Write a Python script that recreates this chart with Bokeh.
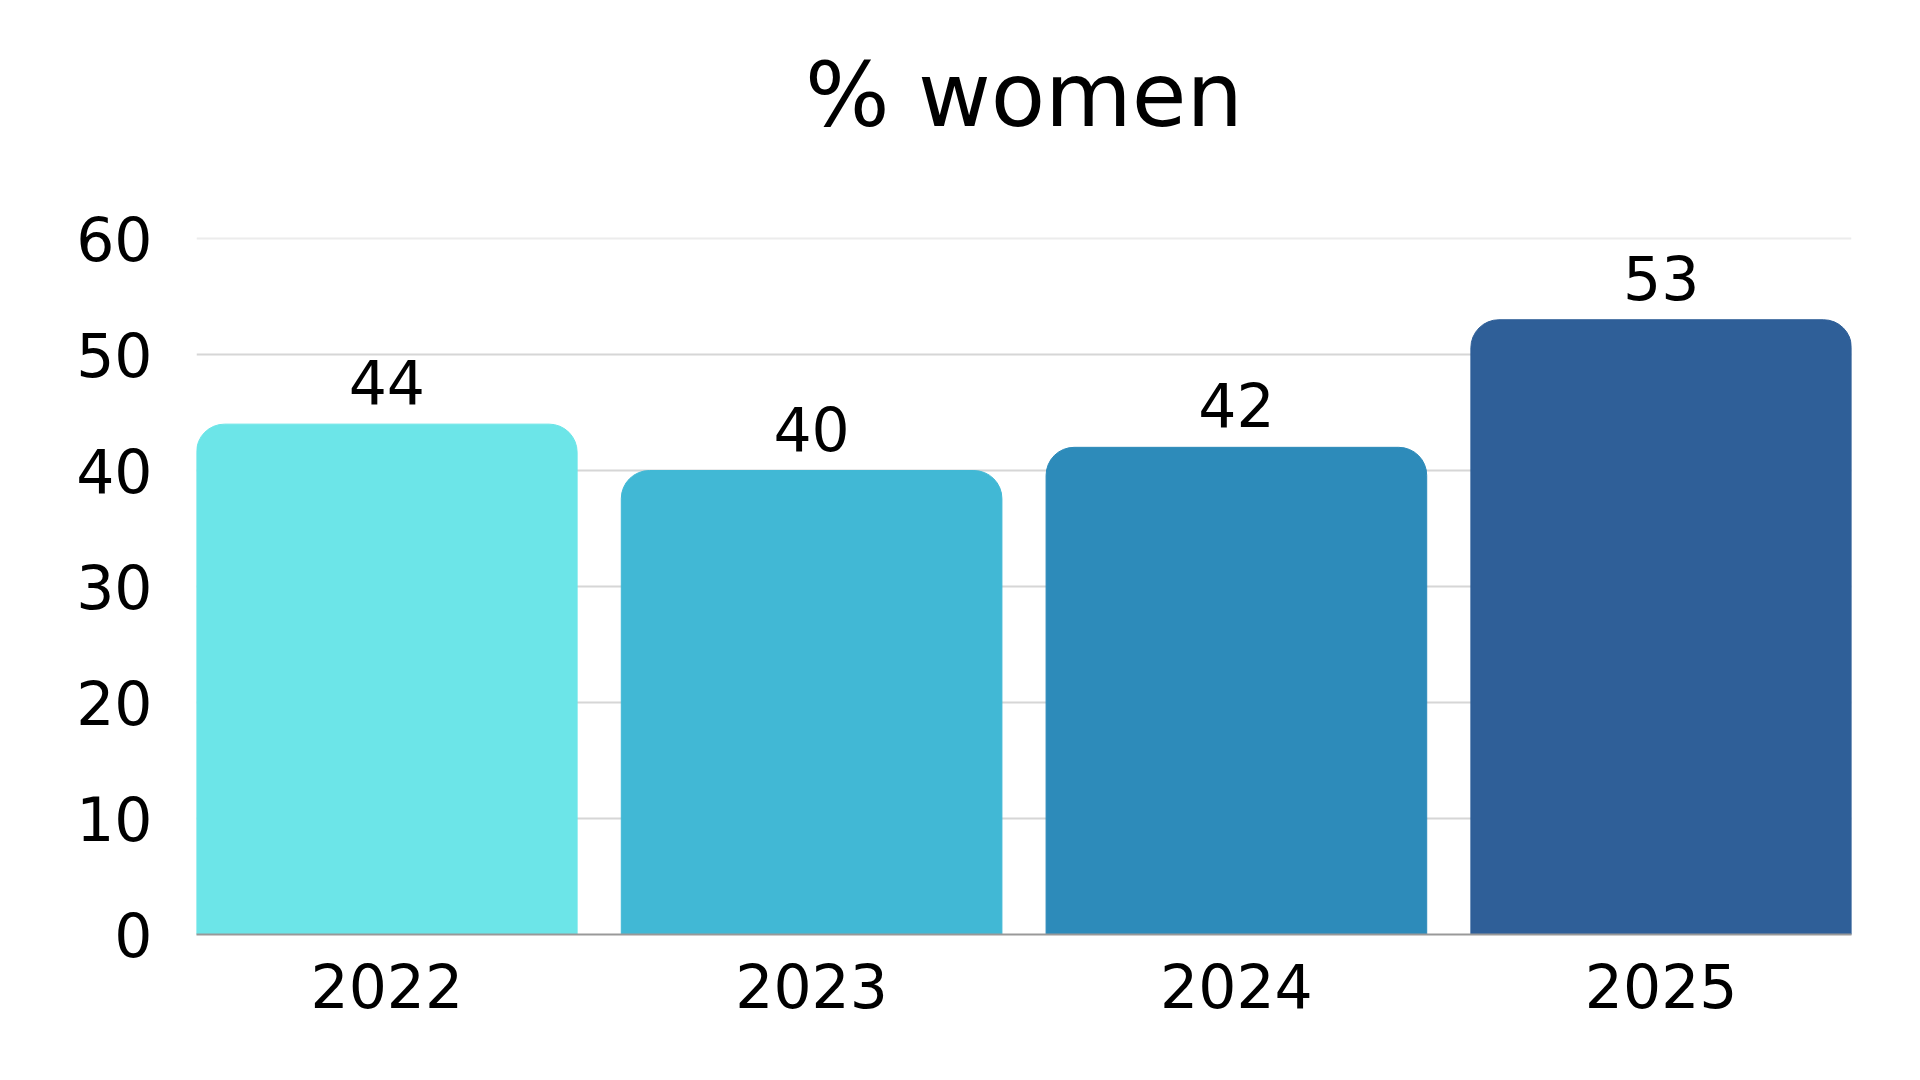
from bokeh.plotting import figure
from bokeh.models import ColumnDataSource, FixedTicker, Range1d, Span
from bokeh.core.properties import value
from bokeh.embed import file_html
from bokeh.resources import INLINE

title_text = "% women"
years = ["2022", "2023", "2024", "2025"]
women_pct = [44, 40, 42, 53]
bar_colors = ["#6CE5E8", "#41B8D5", "#2D8BBA", "#2F5F98"]
y_ticks = [0, 10, 20, 30, 40, 50, 60]

FONT = "DejaVu Sans"

src = ColumnDataSource(dict(
    year=years,
    pct=women_pct,
    color=bar_colors,
    label=[str(v) for v in women_pct],
))

# frame from page y=10 to y=934, 11.6 px per unit -> top of range ~79.66
Y_TOP = 79.66
TITLE_Y = 72.4

p = figure(
    x_range=years,
    y_range=Range1d(0, Y_TOP),
    width=1912,
    height=1072,
    output_backend="svg",
    toolbar_location=None,
    min_border_left=196,
    min_border_right=61,
    min_border_top=10,
    min_border_bottom=138,
)
p.x_range.range_padding_units = "absolute"
p.x_range.range_padding = -0.052

p.vbar(x="year", top="pct", width=0.896, color="color", source=src,
       border_radius=(28, 28, 0, 0))

p.text(x="year", y="pct", text="label", source=src,
       text_align="center", text_baseline="bottom", y_offset=-20,
       text_font=value(FONT), text_font_size="60px", text_color="#000000")

# chart title drawn inside the (extended) frame, centred on the plot
title_src = ColumnDataSource(dict(x=[2.0], y=[TITLE_Y], t=[title_text]))
p.text(x="x", y="y", text="t", source=title_src,
       text_align="center", text_baseline="alphabetic",
       text_font=value(FONT), text_font_size="89px", text_color="#000000")

p.outline_line_color = None
p.xgrid.grid_line_color = None
p.ygrid.ticker = FixedTicker(ticks=y_ticks[:-1])
p.ygrid.grid_line_color = "#d6d6d6"
p.ygrid.grid_line_width = 2
p.add_layout(Span(location=y_ticks[-1], dimension="width",
                  line_color="#ececec", line_width=2))
p.yaxis.ticker = FixedTicker(ticks=y_ticks)

p.yaxis.axis_line_color = None
p.yaxis.major_tick_line_color = None
p.yaxis.minor_tick_line_color = None
p.yaxis.major_label_text_font = FONT
p.yaxis.major_label_text_font_size = "60px"
p.yaxis.major_label_text_color = "#000000"
p.yaxis.major_label_standoff = 38

p.xaxis.axis_line_color = "#999999"
p.xaxis.axis_line_width = 2
p.xaxis.major_tick_line_color = None
p.xaxis.minor_tick_line_color = None
p.xaxis.major_label_text_font = FONT
p.xaxis.major_label_text_font_size = "60px"
p.xaxis.major_label_text_color = "#000000"
p.xaxis.major_label_standoff = 22

open("out.html", "w").write(file_html(p, INLINE))
